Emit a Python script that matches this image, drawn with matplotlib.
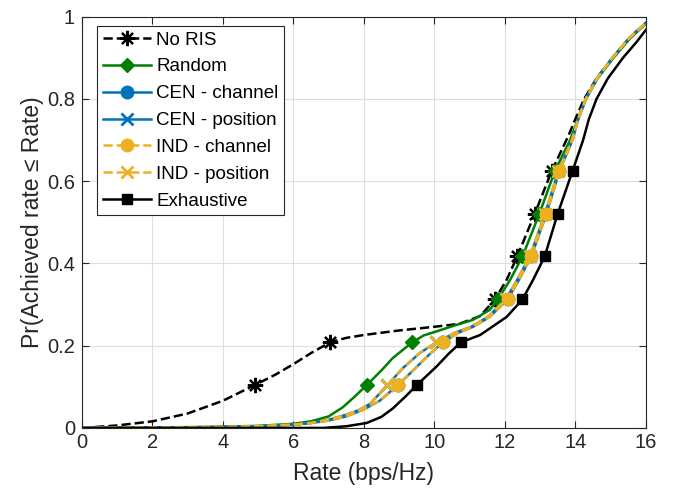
import matplotlib
matplotlib.use("Agg")
import matplotlib.pyplot as plt

plt.rcParams["font.family"] = ["Liberation Sans", "DejaVu Sans"]

# No RIS
x_noris = [0, 1, 2, 3, 4, 4.9, 5.5, 6, 6.5, 7.04, 7.5, 8, 9, 10, 10.7, 11.3, 11.72,
           12.05, 12.35, 12.85, 13.33, 13.8, 14.02, 14.25, 14.6, 15.05, 15.55, 16]
y_noris = [0, 0.006, 0.016, 0.035, 0.066, 0.104, 0.13, 0.155, 0.182, 0.208, 0.219, 0.226,
           0.237, 0.246, 0.253, 0.272, 0.3125, 0.36, 0.417, 0.521, 0.625, 0.71, 0.755,
           0.80, 0.85, 0.9, 0.95, 0.985]
mk_noris = [5, 9, 16, 18, 19, 20]

# Random
x_rand = [0, 2, 4, 5, 6, 6.5, 7, 7.4, 7.75, 8.08, 8.5, 8.82, 9.37, 9.7, 10.07, 10.6,
          11.1, 11.57, 11.8, 12.15, 12.5, 12.98, 13.42, 13.85, 14.07, 14.3, 14.63, 15.08,
          15.56, 16]
y_rand = [0, 0.001, 0.003, 0.005, 0.01, 0.016, 0.028, 0.05, 0.077, 0.104, 0.14, 0.17,
          0.208, 0.225, 0.235, 0.25, 0.263, 0.287, 0.3125, 0.36, 0.417, 0.521, 0.625,
          0.70, 0.75, 0.80, 0.85, 0.9, 0.948, 0.983]
mk_rand = [9, 12, 18, 20, 21, 22]

# channel-based selection (CEN / IND)
x_chan = [0, 2, 4, 5, 6, 6.5, 7, 7.5, 8.0, 8.45, 8.96, 9.4, 9.85, 10.24, 10.7, 11.1,
          11.57, 12.08, 12.4, 12.75, 13.18, 13.55, 13.92, 14.08, 14.3, 14.62, 15.05,
          15.55, 16]
y_chan = [0, 0.001, 0.002, 0.004, 0.008, 0.012, 0.018, 0.028, 0.045, 0.066, 0.104,
          0.14, 0.178, 0.208, 0.232, 0.246, 0.27, 0.3125, 0.36, 0.417, 0.521, 0.625,
          0.70, 0.75, 0.80, 0.85, 0.9, 0.95, 0.985]
mk_chan = [10, 13, 17, 19, 20, 21]

# position-based selection (CEN / IND)
x_pos = [0, 2, 4, 5, 6, 6.5, 7, 7.5, 7.85, 8.17, 8.67, 9.1, 9.6, 10.06, 10.6, 11.05,
         11.52, 12.02, 12.35, 12.71, 13.14, 13.52, 13.9, 14.07, 14.29, 14.61, 15.05,
         15.55, 16]
y_pos = [0, 0.001, 0.002, 0.004, 0.008, 0.012, 0.02, 0.032, 0.043, 0.058, 0.104,
         0.145, 0.183, 0.208, 0.232, 0.246, 0.27, 0.3125, 0.36, 0.417, 0.521, 0.625,
         0.70, 0.75, 0.80, 0.85, 0.9, 0.95, 0.985]
mk_pos = [10, 13, 17, 19, 20, 21]

# Exhaustive
x_exh = [0, 6.85, 7.5, 8.08, 8.5, 8.83, 9.2, 9.5, 10.07, 10.4, 10.75, 11.3, 12.05,
         12.5, 12.8, 13.13, 13.5, 13.92, 14.22, 14.38, 14.6, 14.92, 15.35, 15.75, 16]
y_exh = [0, 0, 0.004, 0.012, 0.027, 0.048, 0.078, 0.104, 0.15, 0.18, 0.208, 0.226,
         0.27, 0.3125, 0.36, 0.417, 0.521, 0.625, 0.70, 0.75, 0.80, 0.85, 0.9, 0.94,
         0.968]
mk_exh = [7, 10, 13, 15, 16, 17]

x_ticks = [0, 2, 4, 6, 8, 10, 12, 14, 16]
y_ticks = [0, 0.2, 0.4, 0.6, 0.8, 1]

blue = "#0072BD"
gold = "#EDB120"
green = "#008000"

fig = plt.figure(figsize=(6.82, 4.93), dpi=100)
ax = fig.add_axes([0.120, 0.132, 0.827, 0.834])

lw = 1.8
ax.plot(x_noris, y_noris, "--", color="k", lw=lw, marker=(8, 2, 0), ms=11, mew=1.6,
        markevery=mk_noris, label="No RIS")
ax.plot(x_rand, y_rand, "-", color=green, lw=lw, marker="D", ms=7.5, mfc=green,
        markevery=mk_rand, label="Random")
ax.plot(x_chan, y_chan, "-", color=blue, lw=lw, marker="o", ms=9, mfc=blue,
        markevery=mk_chan, label="CEN - channel")
ax.plot(x_pos, y_pos, "-", color=blue, lw=lw, marker="x", ms=9, mew=2,
        markevery=mk_pos, label="CEN - position")
ax.plot(x_chan, y_chan, "--", color=gold, lw=lw, marker="o", ms=9, mfc=gold,
        markevery=mk_chan, label="IND - channel")
ax.plot(x_pos, y_pos, "--", color=gold, lw=lw, marker="x", ms=9, mew=2,
        markevery=mk_pos, label="IND - position")
ax.plot(x_exh, y_exh, "-", color="k", lw=lw, marker="s", ms=7.5, mfc="k",
        markevery=mk_exh, label="Exhaustive")

ax.set_xlim(0, 16)
ax.set_ylim(0, 1)
ax.set_xticks(x_ticks)
ax.set_yticks(y_ticks)
ax.set_xticklabels([str(t) for t in x_ticks])
ax.set_yticklabels(["0", "0.2", "0.4", "0.6", "0.8", "1"])
ax.grid(True, color="#DFDFDF", lw=0.8)
ax.set_axisbelow(True)
ax.tick_params(direction="in", top=True, right=True, length=5, width=0.8,
               labelsize=14.5, colors="#262626")
ax.tick_params(axis="x", pad=4)
ax.tick_params(axis="y", pad=5)
for s in ax.spines.values():
    s.set_color("#262626")
    s.set_linewidth(0.8)

ax.set_xlabel("Rate (bps/Hz)", fontsize=16.5, color="#262626", labelpad=7)
ax.set_ylabel("Pr(Achieved rate \u2264 Rate)", fontsize=16.5, color="#262626", labelpad=2)

leg = ax.legend(loc="upper left", bbox_to_anchor=(0.027, 0.978), fontsize=13.5,
                fancybox=False, framealpha=1, edgecolor="#262626", handlelength=2.6,
                borderpad=0.3, labelspacing=0.52, handletextpad=0.25, borderaxespad=0)
leg.get_frame().set_linewidth(0.8)

fig.savefig("out.png", dpi=100)
